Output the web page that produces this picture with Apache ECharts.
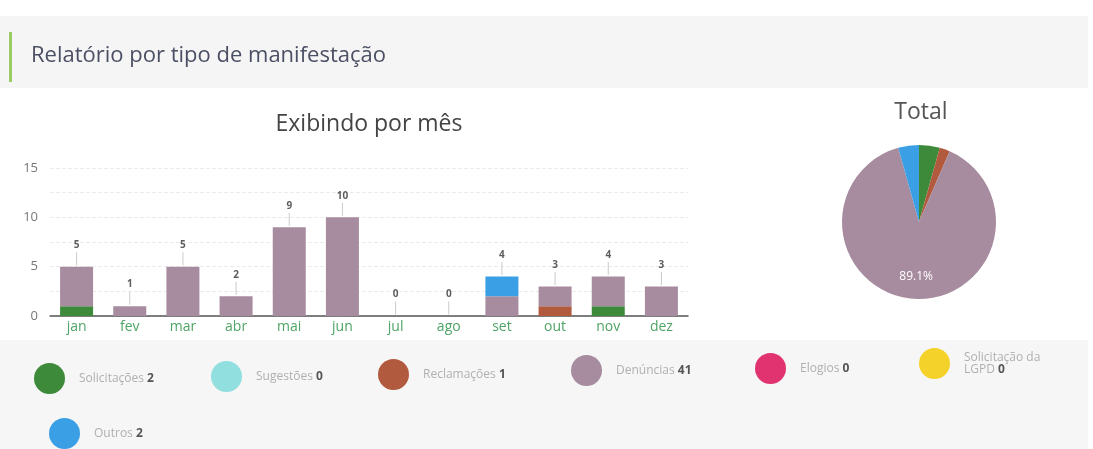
<!DOCTYPE html>
<html>
<head>
<meta charset="utf-8">
<script src="https://cdn.jsdelivr.net/npm/echarts@6/dist/echarts.min.js"></script>
<style>
  html, body { margin: 0; padding: 0; background: #fff; }
  #chart { width: 1093px; height: 449px; }
</style>
</head>
<body>
<div id="chart"></div>
<script>
// meses
const months = ['jan', 'fev', 'mar', 'abr', 'mai', 'jun', 'jul', 'ago', 'set', 'out', 'nov', 'dez'];
const yTicks = [0, 5, 10, 15];

// valores por tipo de manifestação
const solicitacoes = [1, 0, 0, 0, 0, 0, 0, 0, 0, 0, 1, 0];
const sugestoes    = [0, 0, 0, 0, 0, 0, 0, 0, 0, 0, 0, 0];
const reclamacoes  = [0, 0, 0, 0, 0, 0, 0, 0, 0, 1, 0, 0];
const denuncias    = [4, 1, 5, 2, 9, 10, 0, 0, 2, 2, 3, 3];
const elogios      = [0, 0, 0, 0, 0, 0, 0, 0, 0, 0, 0, 0];
const lgpd         = [0, 0, 0, 0, 0, 0, 0, 0, 0, 0, 0, 0];
const outros       = [0, 0, 0, 0, 0, 0, 0, 0, 2, 0, 0, 0];

const tipos = [
  { name: 'Solicitações', data: solicitacoes, color: '#3d8a3a' },
  { name: 'Sugestões', data: sugestoes, color: '#92dfe0' },
  { name: 'Reclamações', data: reclamacoes, color: '#b25a3e' },
  { name: 'Denúncias', data: denuncias, color: '#a78b9f' },
  { name: 'Elogios', data: elogios, color: '#e0336f' },
  { name: 'Solicitação da LGPD', data: lgpd, color: '#f4d22a' },
  { name: 'Outros', data: outros, color: '#3b9fe6' }
];

const sum = arr => arr.reduce((a, b) => a + b, 0);
const totalsByMonth = months.map((m, i) => sum(tipos.map(t => t.data[i])));
const totalByTipo = {};
tipos.forEach(t => { totalByTipo[t.name] = sum(t.data); });

// posições da legenda (layout)
const legendPos = [
  [34, 363], [211, 361], [378, 359], [571, 355], [755, 353], [919, 348], [49, 418]
];

const chart = echarts.init(document.getElementById('chart'));

let series = tipos.map(t => ({
  name: t.name,
  type: 'bar',
  stack: 'total',
  barWidth: 33,
  data: t.data,
  itemStyle: { color: t.color }
}));

// rótulo de total por mês, com tracinho
series.push({
  name: 'total',
  type: 'scatter',
  data: totalsByMonth,
  symbol: 'rect',
  symbolSize: [1, 13],
  symbolOffset: [0, -8],
  silent: true,
  itemStyle: { color: '#bdbdbd' },
  label: {
    show: true,
    position: 'top',
    distance: 2,
    fontSize: 10,
    fontWeight: 'bold',
    color: '#333',
    formatter: '{c}'
  },
  z: 5
});

series.push({
  name: 'Total',
  type: 'pie',
  center: [919, 222],
  radius: 77,
  startAngle: 90,
  data: tipos.map(t => ({ name: t.name, value: totalByTipo[t.name], itemStyle: { color: t.color } })),
  label: {
    show: true,
    position: 'inside',
    color: '#fff',
    fontSize: 12,
    formatter: p => p.percent < 10 ? '' : p.percent.toFixed(1) + '%'
  },
  labelLayout: function () { return { dy: 13 }; },
  labelLine: { show: false }
});

const legends = tipos.map((t, i) => ({
  data: [t.name],
  left: legendPos[i][0],
  top: legendPos[i][1],
  padding: 0,
  icon: 'circle',
  itemWidth: 31,
  itemHeight: 31,
  itemGap: 0,
  selectedMode: false,
  formatter: name => {
    const n = '{b|' + totalByTipo[name] + '}';
    if (name === 'Solicitação da LGPD') return 'Solicitação da\nLGPD ' + n;
    return name + ' ' + n;
  },
  textStyle: {
    color: '#b0b0b0',
    fontSize: 12,
    fontFamily: 'Open Sans',
    padding: [0, 0, 0, 9],
    rich: {
      b: { color: '#555', fontWeight: 'bold', fontSize: 12, fontFamily: 'Open Sans' }
    }
  }
}));

chart.setOption({
  animation: false,
  textStyle: { fontFamily: 'Open Sans' },
  graphic: [
    { type: 'rect', shape: { x: 0, y: 16, width: 1088, height: 72 }, style: { fill: '#f5f5f5' }, z: -10 },
    { type: 'rect', shape: { x: 9, y: 32, width: 3, height: 50 }, style: { fill: '#9ccc65' }, z: -9 },
    { type: 'rect', shape: { x: 0, y: 340, width: 1088, height: 109 }, style: { fill: '#f6f6f6' }, z: -10 }
  ],
  title: [
    { text: 'Relatório por tipo de manifestação', left: 26, top: 40,
      textStyle: { fontSize: 22, fontWeight: 'normal', color: '#4b5064', fontFamily: 'Open Sans' } },
    { text: 'Exibindo por mês', left: 364, top: 108, textAlign: 'center',
      textStyle: { fontSize: 23, fontWeight: 'normal', color: '#444', fontFamily: 'Open Sans' } },
    { text: 'Total', left: 916, top: 96, textAlign: 'center',
      textStyle: { fontSize: 23, fontWeight: 'normal', color: '#555', fontFamily: 'Open Sans' } }
  ],
  legend: legends,
  grid: { left: 50, right: 405, top: 168, bottom: 133 },
  xAxis: {
    type: 'category',
    data: months,
    axisLine: { lineStyle: { color: '#555', width: 1.5 } },
    axisTick: { show: false },
    axisLabel: { color: '#4fa466', fontSize: 14, margin: 4 }
  },
  yAxis: {
    type: 'value',
    min: 0,
    max: yTicks[yTicks.length - 1],
    interval: 2.5,
    axisLine: { show: false },
    axisTick: { show: false },
    axisLabel: {
      color: '#777', fontSize: 13, margin: 12,
      formatter: v => yTicks.indexOf(v) >= 0 ? String(v) : ''
    },
    splitLine: { lineStyle: { color: '#ececec', type: 'dashed' } }
  },
  series: series
});
</script>
</body>
</html>
